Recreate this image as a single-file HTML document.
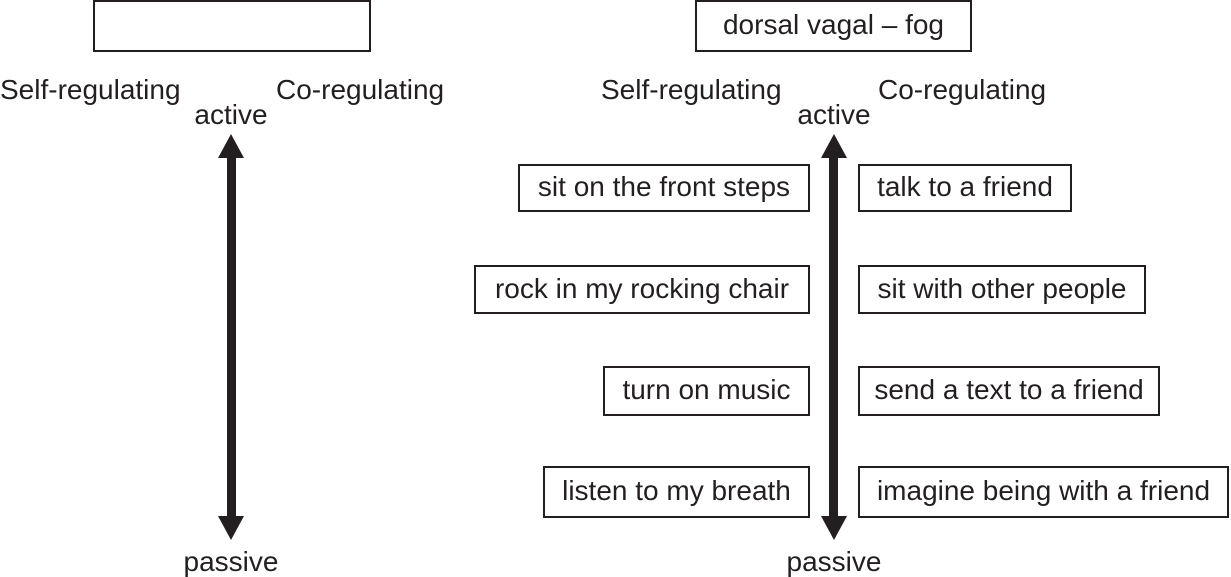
<!DOCTYPE html>
<html><head><meta charset="utf-8"><style>
body{margin:0;width:1231px;height:576px;background:#fff;position:relative;overflow:hidden;font-family:"Liberation Sans",Arial,sans-serif;color:#231f20}
.b{position:absolute;border:2px solid #231f20;box-sizing:border-box;font-size:28px;display:flex;align-items:center;justify-content:center;white-space:nowrap;padding-bottom:2px}
.t{position:absolute;font-size:28px;white-space:nowrap;line-height:30px}
.c{transform:translateX(-50%)}
</style></head><body>
<div class="b" style="left:93px;top:0;width:278px;height:52px"></div>
<div class="b" style="left:695px;top:0;width:277px;height:52px">dorsal vagal – fog</div>

<div class="t" style="left:0;top:75px">Self-regulating</div>
<div class="t" style="left:276px;top:75px">Co-regulating</div>
<div class="t c" style="left:231px;top:100px">active</div>
<div class="t c" style="left:231px;top:547px">passive</div>

<div class="t" style="left:601px;top:75px">Self-regulating</div>
<div class="t" style="left:878px;top:75px">Co-regulating</div>
<div class="t c" style="left:834px;top:100px">active</div>
<div class="t c" style="left:834px;top:547px">passive</div>

<svg width="1231" height="576" style="position:absolute;left:0;top:0">
<g fill="#231f20">
<rect x="227" y="150" width="9" height="374"/>
<polygon points="231,134 218,158 244,158"/>
<polygon points="231,540 218,516 244,516"/>
<rect x="829" y="150" width="9" height="374"/>
<polygon points="834,134 821,158 847,158"/>
<polygon points="834,540 821,516 847,516"/>
</g></svg>

<div class="b" style="left:518px;top:164px;width:292px;height:48px">sit on the front steps</div>
<div class="b" style="left:474px;top:265px;width:336px;height:49px">rock in my rocking chair</div>
<div class="b" style="left:603px;top:366px;width:207px;height:50px">turn on music</div>
<div class="b" style="left:543px;top:466px;width:267px;height:52px">listen to my breath</div>

<div class="b" style="left:858px;top:164px;width:214px;height:48px">talk to a friend</div>
<div class="b" style="left:858px;top:265px;width:288px;height:49px">sit with other people</div>
<div class="b" style="left:858px;top:366px;width:302px;height:50px">send a text to a friend</div>
<div class="b" style="left:858px;top:466px;width:371px;height:52px">imagine being with a friend</div>
</body></html>
